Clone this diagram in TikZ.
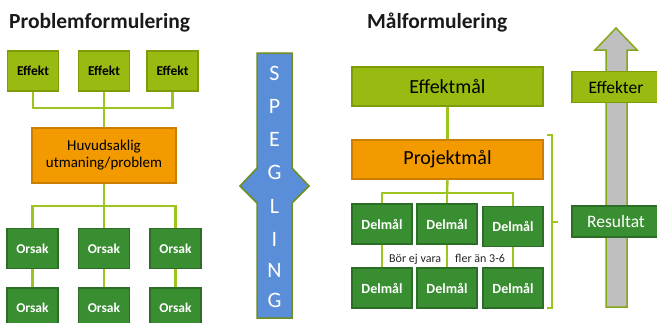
\documentclass[tikz,border=0pt]{standalone}
\usepackage{fontspec}
\setmainfont{Carlito}
\definecolor{lgreen}{HTML}{99BB11}
\definecolor{lgreenb}{HTML}{7E9C0A}
\definecolor{dgreen}{HTML}{3A8E32}
\definecolor{dgreenb}{HTML}{2C6E26}
\definecolor{orng}{HTML}{F29A00}
\definecolor{orngb}{HTML}{C98000}
\definecolor{conn}{HTML}{9DC41F}
\definecolor{speg}{HTML}{5A8ED8}
\definecolor{spegb}{HTML}{6E8E1E}
\definecolor{grayarr}{HTML}{BFBFBF}
\definecolor{titlec}{HTML}{1A1A1A}
\tikzset{
  boxbase/.style={rectangle, inner sep=0pt, line width=1.2pt, align=center},
  lbox/.style={boxbase, fill=lgreen, draw=lgreenb, text=black},
  dbox/.style={boxbase, fill=dgreen, draw=dgreenb, text=white},
  obox/.style={boxbase, fill=orng, draw=orngb, text=black},
  small/.style={minimum width=51pt, minimum height=40pt, font=\fontsize{13.5}{15}\selectfont\bfseries},
  delm/.style={dbox, minimum width=60pt, minimum height=40pt, font=\fontsize{14}{16}\selectfont\bfseries},
  wide/.style={minimum width=191pt, minimum height=39pt, font=\fontsize{20}{22}\selectfont},
  side/.style={minimum width=88pt, minimum height=31pt, font=\fontsize{17.5}{19}\selectfont},
  connline/.style={draw=conn, line width=2.4pt},
  titletext/.style={anchor=base west, inner sep=0pt, text=titlec, font=\fontsize{21.5}{24}\selectfont\bfseries},
  letter/.style={text=white, inner sep=0pt, font=\fontsize{22}{24}\selectfont},
}
\begin{document}
\begin{tikzpicture}[x=1pt,y=-1pt]
\useasboundingbox[fill=white] (0,0) rectangle (657,322);

% titles
\node[titletext] (t1) at (9,28) {Problemformulering};
\node[titletext] (t2) at (367,28) {Målformulering};

% ---------- left tree ----------
\node[lbox, small] (e1) at (33,71) {Effekt};
\node[lbox, small] (e2) at (104,71) {Effekt};
\node[lbox, small] (e3) at (172.5,71) {Effekt};
\node[obox, minimum width=144pt, minimum height=55pt, font=\fontsize{15}{17}\selectfont] (hub) at (104,155.5) {Huvudsaklig\\utmaning/problem};
\node[dbox, small] (o1) at (32.5,248.5) {Orsak};
\node[dbox, small] (o2) at (104,248.5) {Orsak};
\node[dbox, small] (o3) at (175.5,248.5) {Orsak};
\node[dbox, small] (o4) at (32.5,308) {Orsak};
\node[dbox, small] (o5) at (104,308) {Orsak};
\node[dbox, small] (o6) at (175.5,308) {Orsak};

\coordinate (ja) at (104,108);
\coordinate (jb) at (104,206);
\draw[connline] (e1.south) |- (ja) -| (e3.south);
\draw[connline] (e2.south) -- (hub.north);
\draw[connline] (hub.south) -- (jb);
\draw[connline] (o1.north) |- (jb) -| (o3.north);
\draw[connline] (jb) -- (o2.north);
\draw[connline] (o1.south) -- (o4.north);
\draw[connline] (o2.south) -- (o5.north);
\draw[connline] (o3.south) -- (o6.north);

% ---------- SPEGLING ----------
\draw[fill=speg, draw=spegb, line width=1.5pt, line join=miter]
  (257,53) -- (292,53) -- (292,168) -- (309,186) -- (292,203) -- (292,318)
  -- (257,318) -- (257,203) -- (240,186) -- (257,168) -- cycle;
\node[letter] (s1) at (274.5,73) {S};
\node[letter] (s2) at (274.5,106) {P};
\node[letter] (s3) at (274.5,139) {E};
\node[letter] (s4) at (274.5,172) {G};
\node[letter] (s5) at (274.5,206) {L};
\node[letter] (s6) at (274.5,239) {I};
\node[letter] (s7) at (274.5,270) {N};
\node[letter] (s8) at (274.5,300) {G};

% ---------- right tree ----------
\node[lbox, wide] (em) at (447.5,86.5) {Effektmål};
\node[obox, wide] (pm) at (447.5,159.5) {Projektmål};
\node[delm] (d1) at (382,224) {Delmål};
\node[delm] (d2) at (447,224) {Delmål};
\node[delm] (d3) at (513,226.5) {Delmål};
\node[delm] (d4) at (382,288) {Delmål};
\node[delm] (d5) at (447,288) {Delmål};
\node[delm] (d6) at (513,288) {Delmål};
\coordinate (jc) at (447,193);
\draw[connline] (em.south) -- (pm.north);
\draw[connline] (pm.south) -- (jc);
\draw[connline] (d1.north) |- (jc) -| (d3.north);
\draw[connline] (jc) -- (d2.north);
\draw[connline] (d1.south) -- (d4.north);
\draw[connline] (d2.south) -- (d5.north);
\draw[connline] (d3.south) -- (d6.north);
\node[anchor=base west, inner sep=0pt, text=black!85, font=\fontsize{12}{13}\selectfont] (note) at (389,262) {Bör ej vara\hspace{14pt}fler än 3-6};

% bracket
\coordinate (b1) at (547,135);
\coordinate (b2) at (547,308);
\coordinate (bm) at (552,222);
\coordinate (bt) at (558,222);
\draw[draw=conn, line width=2pt] (b1) -- ++(5,0) |- (b2);
\draw[draw=conn, line width=2pt] (bm) -- (bt);

% ---------- gray arrow ----------
\draw[fill=grayarr, draw=conn!85!black, line width=1.5pt, line join=miter]
  (606,307) -- (606,50) -- (595,50) -- (616,28) -- (637,50) -- (627,50) -- (627,307) -- cycle;
\node[lbox, side] (ef) at (616,87) {Effekter};
\node[dbox, side] (re) at (616,221.5) {Resultat};
\end{tikzpicture}
\end{document}
